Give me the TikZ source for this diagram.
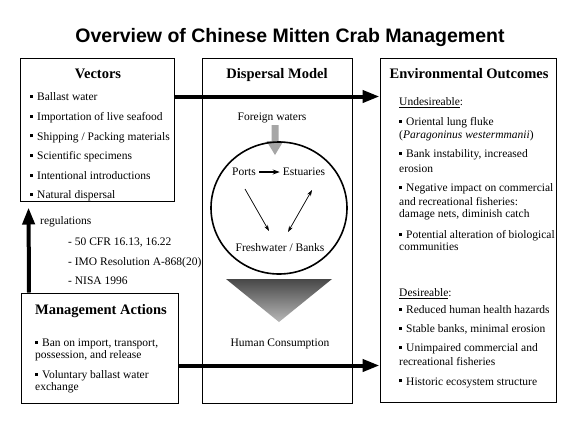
\documentclass[tikz,border=0pt]{standalone}
\usepackage{fontspec}
\setmainfont{Liberation Serif}
\newfontfamily\titlefont{Liberation Sans}
\usetikzlibrary{arrows.meta}
\newcommand{\bul}{\rule[2.6pt]{3pt}{3pt}\hspace{4pt}}
\tikzset{
  box/.style={draw, line width=1pt, inner sep=0, fill=white},
  txt/.style={inner sep=0, anchor=base west, font=\fontsize{11.5}{13}\selectfont},
  ctxt/.style={inner sep=0, anchor=base, font=\fontsize{11.5}{13}\selectfont},
  head/.style={inner sep=0, anchor=base, font=\fontsize{14.5}{16}\selectfont\bfseries},
  bigarrow/.style={line width=4pt, -{Triangle[length=17pt,width=12pt]}},
  thinarrow/.style={line width=0.7pt, -{Stealth[length=6pt,width=4pt]}},
}
\begin{document}
\begin{tikzpicture}[x=1pt,y=-1pt]
\useasboundingbox (0,0) rectangle (576,432);
\fill[white] (0,0) rectangle (576,432);

% title
\node[inner sep=0, anchor=base, font=\titlefont\fontsize{19.5}{22}\selectfont\bfseries] (title) at (290,42) {Overview of Chinese Mitten Crab Management};

% boxes
\node[box, minimum width=154, minimum height=143] (vec) at (97,129.5) {};
\node[box, minimum width=150, minimum height=345] (disp) at (277,230.5) {};
\node[box, minimum width=176, minimum height=344] (env) at (468,230) {};
\node[box, minimum width=157, minimum height=110] (mgmt) at (99.5,348) {};

% headings
\node[head] (hvec) at (98,78) {Vectors};
\node[head] (hdisp) at (277,78) {Dispersal Model};
\node[head] (henv) at (469,78) {Environmental Outcomes};
\node[head, anchor=base west] (hmgmt) at (35,314) {Management Actions};

% vectors list
\node[txt] (v1) at (30,100.5) {\bul Ballast water};
\node[txt] (v2) at (30,120.5) {\bul Importation of live seafood};
\node[txt] (v3) at (30,140) {\bul Shipping / Packing materials};
\node[txt] (v4) at (30,159.5) {\bul Scientific specimens};
\node[txt] (v5) at (30,179.5) {\bul Intentional introductions};
\node[txt] (v6) at (30,198.5) {\bul Natural dispersal};

% regulations
\node[txt] (reg) at (40,224.5) {regulations};
\node[txt] (r1) at (68,245.5) {- 50 CFR 16.13, 16.22};
\node[txt] (r2) at (68,265.5) {- IMO Resolution A-868(20)};
\node[txt] (r3) at (68,284.5) {- NISA 1996};

% management list
\node[txt] (m1) at (35,346.5) {\bul Ban on import, transport,};
\node[txt] (m1b) at (35,358.5) {possession, and release};
\node[txt] (m2) at (35,378.5) {\bul Voluntary ballast water};
\node[txt] (m2b) at (35,390.5) {exchange};

% environmental outcomes
\node[txt] (und) at (399,105.5) {\underline{Undesireable}:};
\node[txt] (e1) at (399,125.5) {\bul Oriental lung fluke};
\node[txt] (e1b) at (399,138.5) {(\textit{Paragoninus westermmanii})};
\node[txt] (e2) at (399,157.5) {\bul Bank instability, increased};
\node[txt] (e2b) at (399,172) {erosion};
\node[txt] (e3) at (399,191.5) {\bul Negative impact on commercial};
\node[txt] (e3b) at (399,205) {and recreational fisheries:};
\node[txt] (e3c) at (399,217.5) {damage nets, diminish catch};
\node[txt] (e4) at (399,238.5) {\bul Potential alteration of biological};
\node[txt] (e4b) at (399,250.5) {communities};
\node[txt] (des) at (399,296.5) {\underline{Desireable}:};
\node[txt] (d1) at (399,313.5) {\bul Reduced human health hazards};
\node[txt] (d2) at (399,332.5) {\bul Stable banks, minimal erosion};
\node[txt] (d3) at (399,351.5) {\bul Unimpaired commercial and};
\node[txt] (d3b) at (399,365.5) {recreational fisheries};
\node[txt] (d4) at (399,385) {\bul Historic ecosystem structure};

% dispersal model
\node[ctxt] (foreign) at (272,120.5) {Foreign waters};
\fill[black!35] (271.5,125) -- (278.5,125) -- (278.5,141) -- (283.5,141) -- (275,155) -- (266.5,141) -- (271.5,141) -- cycle;
\draw[line width=1.6pt] (279,208) ellipse [x radius=68, y radius=66];
\node[ctxt] (ports) at (244,175.5) {Ports};
\node[ctxt] (est) at (304,175.5) {Estuaries};
\node[ctxt] (fresh) at (280,251.5) {Freshwater / Banks};
\draw[line width=1.5pt, -{Stealth[length=7pt,width=5pt]}] ([xshift=3pt,yshift=3.5pt]ports.base east) -- ([xshift=-3pt,yshift=3.5pt]est.base west);
\coordinate (pa) at (245,189);
\coordinate (fa) at (269,231);
\coordinate (eb) at (312,190);
\coordinate (fb) at (288,232);
\draw[thinarrow] (pa) -- (fa);
\draw[line width=0.7pt, {Stealth[length=6pt,width=4pt]}-{Stealth[length=6pt,width=4pt]}] (eb) -- (fb);
\shade[top color=black!72, bottom color=black!28] (226,279) -- (332,279) -- (279,322) -- cycle;
\node[ctxt] (human) at (280,346.5) {Human Consumption};

% big arrows
\coordinate (va) at ([yshift=-39pt]vec.north east);
\coordinate (ma) at ([yshift=-73pt]mgmt.north east);
\draw[bigarrow] (va) -- (env.west |- va);
\draw[bigarrow] (ma) -- (env.west |- ma);
\draw[bigarrow, shorten >=6pt] ([xshift=8.5pt]mgmt.north west) -- ([xshift=9pt]vec.south west);
\end{tikzpicture}
\end{document}
